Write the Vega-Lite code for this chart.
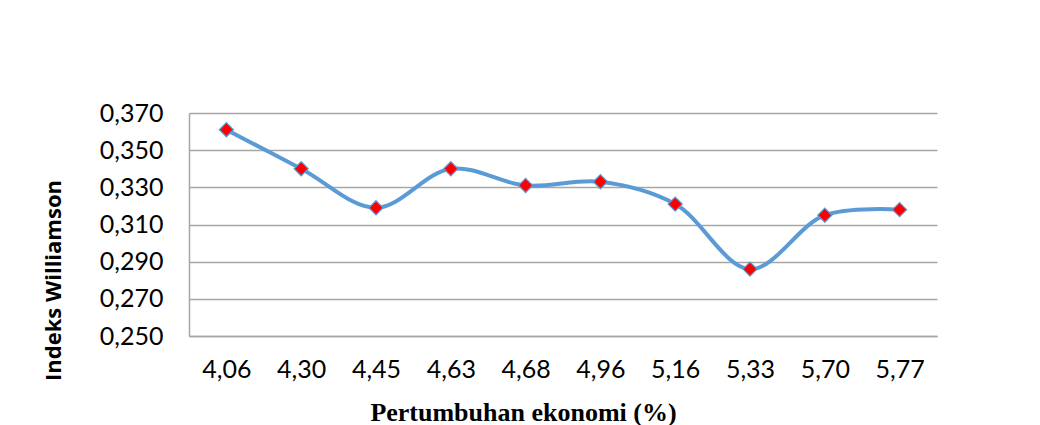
{
  "$schema": "https://vega.github.io/schema/vega-lite/v6.json",
  "autosize": "none",
  "width": 748,
  "height": 223,
  "padding": {"left": 189, "top": 113, "right": 103, "bottom": 89},
  "background": "white",
  "config": {
    "locale": {"number": {"decimal": ",", "thousands": ".", "grouping": [3], "currency": ["", ""]}},
    "view": {"stroke": null}
  },
  "data": {
    "values": [
      {"growth": "4,06", "index": 0.361},
      {"growth": "4,30", "index": 0.340},
      {"growth": "4,45", "index": 0.319},
      {"growth": "4,63", "index": 0.340},
      {"growth": "4,68", "index": 0.331},
      {"growth": "4,96", "index": 0.333},
      {"growth": "5,16", "index": 0.321},
      {"growth": "5,33", "index": 0.286},
      {"growth": "5,70", "index": 0.315},
      {"growth": "5,77", "index": 0.318}
    ]
  },
  "encoding": {
    "x": {
      "field": "growth", "type": "ordinal", "sort": null,
      "scale": {"type": "point", "padding": 0.5},
      "axis": {
        "title": "Pertumbuhan  ekonomi (%)",
        "labelAngle": 0, "labelFont": "Lato", "labelFontSize": 25, "labelColor": "black",
        "labelPadding": 21, "ticks": false, "domainColor": "#A6A6A6", "domainWidth": 1.5,
        "titleFont": "Liberation Serif", "titleFontSize": 26, "titleFontWeight": "bold", "titleColor": "black",
        "titleX": 334, "titleY": 84, "titleBaseline": "alphabetic", "titleAnchor": "middle"
      }
    },
    "y": {
      "field": "index", "type": "quantitative",
      "scale": {"domain": [0.25, 0.37], "nice": false, "zero": false},
      "axis": {
        "title": "Indeks Williamson", "values": [0.25, 0.27, 0.29, 0.31, 0.33, 0.35, 0.37],
        "format": ".3f", "labelFont": "Lato", "labelFontSize": 25, "labelColor": "black",
        "labelPadding": 26, "ticks": false, "domainColor": "#A6A6A6", "domainWidth": 1.5,
        "grid": true, "gridColor": "#A6A6A6", "gridWidth": 1.5,
        "titleFont": "Open Sans", "titleFontSize": 22, "titleFontWeight": "bold", "titleColor": "black",
        "titleX": -136, "titleY": 167, "titleAngle": -90, "titleBaseline": "middle", "titleAnchor": "middle"
      }
    }
  },
  "layer": [
    {"mark": {"type": "line", "interpolate": "catmull-rom", "color": "#5B9BD5", "strokeWidth": 4}},
    {"mark": {"type": "point", "shape": "diamond", "filled": true, "fill": "#FF0000", "stroke": "#5B9BD5", "strokeWidth": 1.2, "size": 200, "opacity": 1}}
  ]
}
